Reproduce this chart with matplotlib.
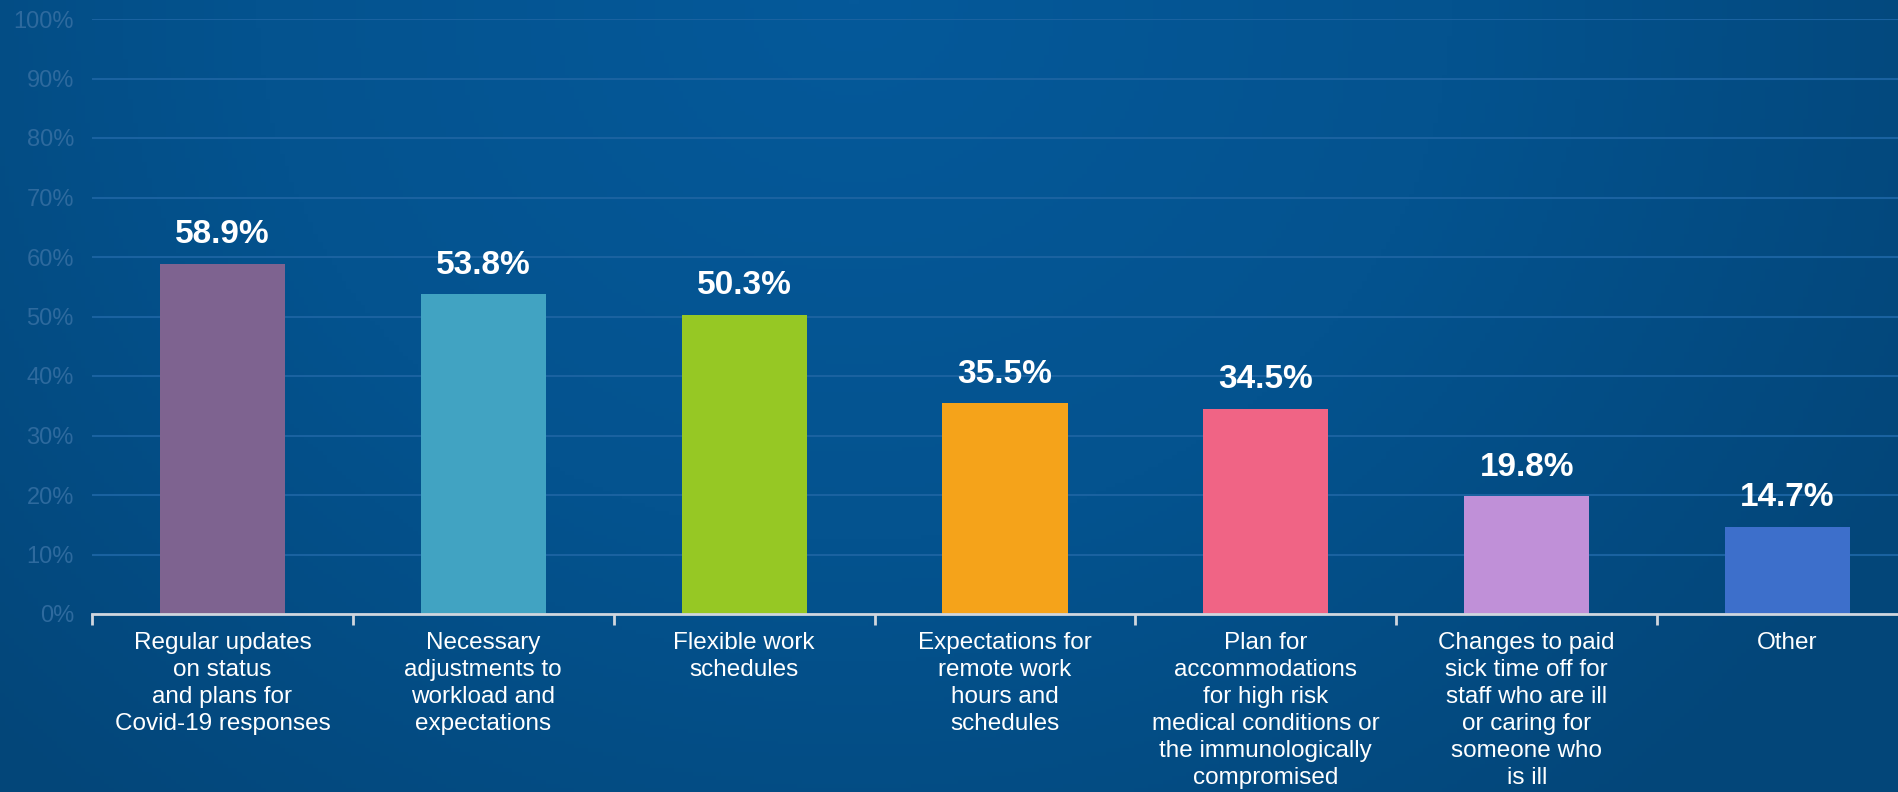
import numpy as np
import matplotlib
matplotlib.use("Agg")
import matplotlib.pyplot as plt
from matplotlib.colors import LinearSegmentedColormap

categories = [
    "Regular updates\non status\nand plans for\nCovid-19 responses",
    "Necessary\nadjustments to\nworkload and\nexpectations",
    "Flexible work\nschedules",
    "Expectations for\nremote work\nhours and\nschedules",
    "Plan for\naccommodations\nfor high risk\nmedical conditions or\nthe immunologically\ncompromised",
    "Changes to paid\nsick time off for\nstaff who are ill\nor caring for\nsomeone who\nis ill",
    "Other",
]
values = [58.9, 53.8, 50.3, 35.5, 34.5, 19.8, 14.7]
bar_colors = ["#7E6390", "#41A3C2", "#96C824", "#F5A31A", "#F06485", "#C090D8", "#3D6FCB"]
yticks = [0, 10, 20, 30, 40, 50, 60, 70, 80, 90, 100]
ytick_labels = [f"{t}%" for t in yticks]

plt.rcParams['font.family'] = ['Liberation Sans', 'DejaVu Sans']

W, H = 1898, 792
fig = plt.figure(figsize=(W / 100, H / 100), dpi=100)

# background gradient
bg = fig.add_axes([0, 0, 1, 1])
bg.set_axis_off()
xx = np.linspace(-1, 1, 400)
yy = np.linspace(-1, 1, 200)
X, Y = np.meshgrid(xx, yy)
d = np.sqrt(((X + 0.1) / 1.2) ** 2 + ((Y - 1.0) / 2.6) ** 2)
cmap = LinearSegmentedColormap.from_list("bg", ["#05599A", "#04538F", "#034679"])
bg.imshow(d, cmap=cmap, aspect="auto", extent=[0, 1, 0, 1], origin="lower", vmin=0, vmax=1.05)
bg.set_xlim(0, 1)
bg.set_ylim(0, 1)

left_px, right_px = 92, 1918
base_px, top_px = 614, 19
ax = fig.add_axes([left_px / W, (H - base_px) / H, (right_px - left_px) / W, (base_px - top_px) / H])
ax.patch.set_alpha(0)

x = np.arange(len(values))
ax.bar(x, values, width=0.48, color=bar_colors, zorder=3)
for xi, v in zip(x, values):
    ax.text(xi, v + 3.4, f"{v:.1f}%", ha="center", va="baseline", color="white",
            fontsize=24, fontweight="bold", zorder=4)

ax.set_xlim(-0.5, len(values) - 0.5)
ax.set_ylim(0, 100)
ax.set_yticks(yticks)
ax.set_yticklabels(ytick_labels)
ax.yaxis.grid(True, color="#1A62A0", linewidth=1.5, zorder=0)
ax.tick_params(axis="y", length=0, labelsize=17, labelcolor="#2E6A9E", pad=13)

ax.set_xticks(x)
ax.set_xticklabels(categories, fontsize=17.5, color="white", linespacing=1.29)
ax.tick_params(axis="x", which="major", length=0, pad=13)
ax.set_xticks(np.arange(len(values) + 1) - 0.5, minor=True)
ax.tick_params(axis="x", which="minor", length=8, width=2, color="#D0D6DE")

for s in ["left", "right", "top"]:
    ax.spines[s].set_visible(False)
ax.spines["bottom"].set_color("#D0D6DE")
ax.spines["bottom"].set_linewidth(2)
ax.spines["bottom"].set_zorder(5)

fig.savefig("out.png", dpi=100)
